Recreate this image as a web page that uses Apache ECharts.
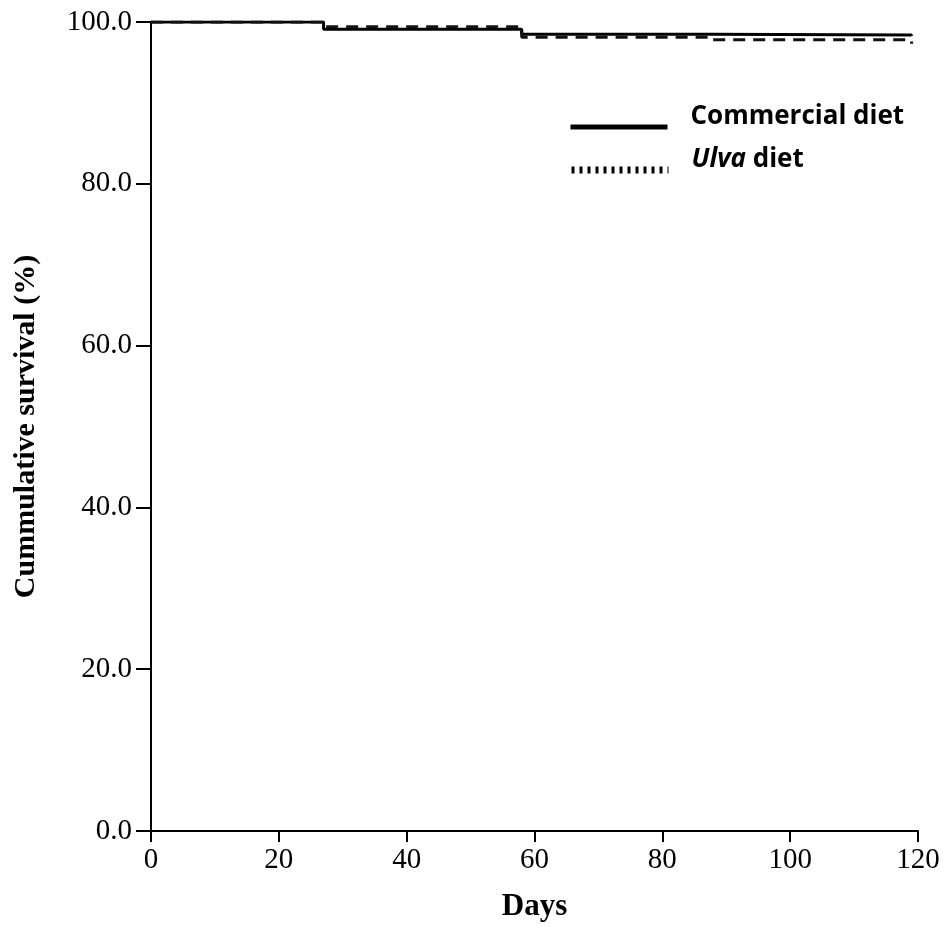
<!DOCTYPE html>
<html>
<head>
<meta charset="utf-8">
<script src="https://cdn.jsdelivr.net/npm/echarts@6/dist/echarts.min.js"></script>
<style>
  html, body { margin: 0; padding: 0; background: #fff; }
  #main { width: 945px; height: 930px; }
</style>
</head>
<body>
<div id="main"></div>
<script>
// Kaplan-Meier steps: [day, survival %]
var commercialDiet = [[0, 100], [27, 99.1], [58, 98.5], [87.5, 98.4], [119, 98.3]];
var ulvaDiet = [[0, 100], [27, 99.4], [58, 98.1], [87.5, 97.8], [119, 97.3]];
var xTicks = [0, 20, 40, 60, 80, 100, 120];
var yTicks = [0, 20, 40, 60, 80, 100];

var myChart = echarts.init(document.getElementById('main'));
var serif = '"Liberation Serif", "DejaVu Serif", serif';
var sans = '"Open Sans", "Liberation Sans", sans-serif';

//图例文字样式
var legendText = {
	fontFamily: sans,
	fontWeight: 'bold',
	fontSize: 26,
	lineHeight: 30,
	color: '#000',
	padding: [0, 0, 20, 18],
	rich: {
		i: { fontStyle: 'italic', fontWeight: 'bold', fontSize: 26, lineHeight: 30, fontFamily: sans, color: '#000' }
	}
};

var option = {
	animation: false,
	grid: { left: 151, right: 27, top: 22, bottom: 99 },
	legend: [
		{
			left: 568,
			top: 102,
			padding: 0,
			itemWidth: 97,
			itemHeight: 14,
			textStyle: legendText,
			itemStyle: { opacity: 0 },
			data: [{ name: 'Commercial diet', lineStyle: { width: 5, color: '#000', type: 'solid' } }]
		},
		{
			left: 568,
			top: 145,
			padding: 0,
			itemWidth: 97,
			itemHeight: 14,
			textStyle: legendText,
			itemStyle: { opacity: 0 },
			formatter: function (name) { return '{i|Ulva} diet'; },
			data: [{ name: 'Ulva diet', lineStyle: { width: 7, color: '#000', type: [3, 5] } }]
		}
	],
	xAxis: {
		type: 'value',
		min: 0,
		max: 120,
		interval: 20,
		name: 'Days',
		nameLocation: 'middle',
		nameGap: 60,
		nameTextStyle: { fontFamily: serif, fontWeight: 'bold', fontSize: 31, color: '#000' },
		axisLine: { lineStyle: { color: '#000', width: 2 } },
		axisTick: { length: 11, lineStyle: { color: '#000', width: 2 } },
		axisLabel: {
			fontFamily: serif, fontSize: 29, color: '#000', margin: 15,
			formatter: function (v) { return xTicks.indexOf(v) >= 0 ? String(v) : ''; }
		},
		splitLine: { show: false }
	},
	yAxis: {
		type: 'value',
		min: 0,
		max: 100,
		interval: 20,
		name: 'Cummulative survival (%)',
		nameLocation: 'middle',
		nameGap: 110,
		nameTextStyle: { fontFamily: serif, fontWeight: 'bold', fontSize: 30, color: '#000' },
		axisLine: { show: true, lineStyle: { color: '#000', width: 2 } },
		axisTick: { show: true, length: 15, lineStyle: { color: '#000', width: 2 } },
		axisLabel: {
			fontFamily: serif, fontSize: 29, color: '#000', margin: 19,
			formatter: function (v) { return yTicks.indexOf(v) >= 0 ? v.toFixed(1) : ''; }
		},
		splitLine: { show: false }
	},
	series: [
		{
			name: 'Commercial diet',
			type: 'line',
			step: 'end',
			symbol: 'none',
			itemStyle: { color: '#000' },
			lineStyle: { color: '#000', width: 3 },
			data: commercialDiet
		},
		{
			name: 'Ulva diet',
			type: 'line',
			step: 'end',
			symbol: 'none',
			itemStyle: { color: '#000' },
			lineStyle: { color: '#111', width: 3, type: [12, 8] },
			data: ulvaDiet
		}
	]
};
myChart.setOption(option);
</script>
</body>
</html>
